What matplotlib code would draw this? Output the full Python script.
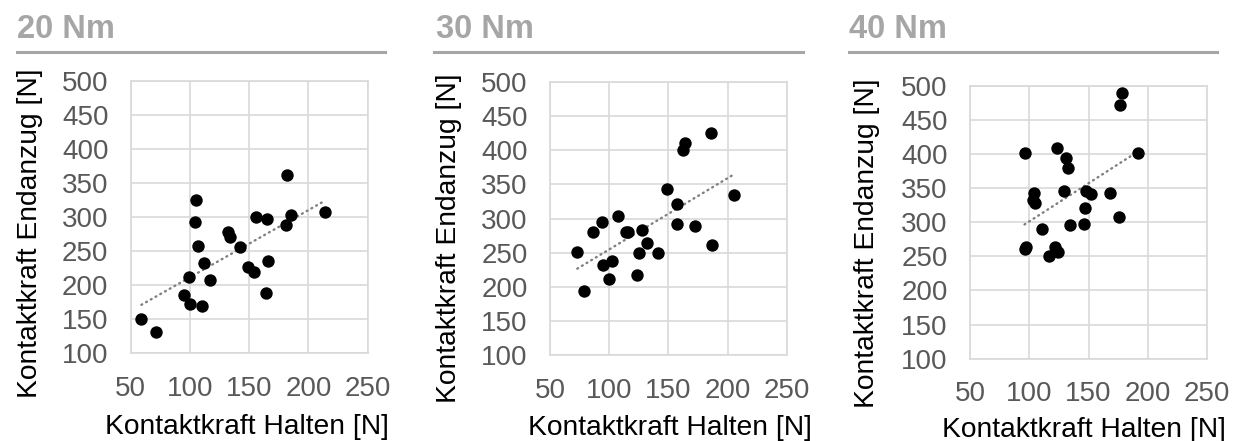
import matplotlib
matplotlib.use("Agg")
import matplotlib.pyplot as plt
from matplotlib.lines import Line2D
import numpy as np

plt.rcParams['font.family'] = ['Liberation Sans', 'DejaVu Sans']

# Kontaktkraft Halten / Endanzug je Anzugsmoment
titles = ["20 Nm", "30 Nm", "40 Nm"]

halten_20 = [59, 71, 95, 100, 99, 110, 105, 104, 107, 112, 117, 132, 134, 142,
             149, 154, 156, 165, 166, 164, 182, 181, 185, 214]
endanzug_20 = [151, 131, 185, 173, 212, 169, 325, 293, 258, 233, 207, 278, 271, 256,
               226, 220, 300, 297, 236, 188, 362, 288, 303, 307]

halten_30 = [73, 79, 86, 94, 95, 102, 100, 107, 114, 116, 128, 132, 125, 123,
             141, 149, 157, 157, 162, 164, 172, 186, 187, 205]
endanzug_30 = [251, 194, 281, 295, 232, 238, 211, 304, 280, 280, 283, 265, 249, 217,
               249, 343, 322, 292, 401, 410, 289, 425, 261, 335]

halten_40 = [96, 96, 97, 104, 103, 105, 111, 117, 122, 124, 123, 131, 133, 129,
             134, 146, 147, 148, 152, 168, 176, 177, 178, 192]
endanzug_40 = [401, 261, 263, 343, 333, 328, 290, 250, 264, 257, 408, 394, 379, 346,
               296, 297, 321, 345, 342, 343, 308, 471, 490, 401]

series = [(halten_20, endanzug_20), (halten_30, endanzug_30), (halten_40, endanzug_40)]

# axes boxes in pixels: left, right, top, bottom
W, H = 1233, 441
boxes = [(130.7, 367.7, 80.7, 353.3), (550, 787, 82, 355.3), (970, 1207, 85.7, 358.7)]
title_x = [17, 436, 849]
rule_x = [(17, 385), (434, 803), (849, 1217)]
ylab_x = [30, 449, 867]
ylab_y = [233, 238, 243]
xlab_x = [247, 670, 1084]
xlab_y = [427, 428, 430]

grid_c = "#d9d9d9"
tick_c = "#595959"
head_c = "#a6a6a6"

fig = plt.figure(figsize=(W / 100, H / 100), dpi=100)

for i, (xs, ys) in enumerate(series):
    l, r, t, b = boxes[i]
    ax = fig.add_axes([l / W, (H - b) / H, (r - l) / W, (b - t) / H])
    xs = np.array(xs, dtype=float)
    ys = np.array(ys, dtype=float)

    ax.scatter(xs, ys, s=80, color="black", zorder=3, linewidths=0)

    # linear trend over the data range
    k, d = np.polyfit(xs, ys, 1)
    xt = np.array([xs.min(), xs.max()])
    ax.plot(xt, k * xt + d, color="#7f7f7f", lw=1.7, linestyle=(0, (0.4, 1.9)),
            zorder=2, dash_capstyle="round")

    ax.set_xlim(50, 250)
    ax.set_ylim(100, 500)
    ax.set_xticks(np.arange(50, 251, 50))
    ax.set_yticks(np.arange(100, 501, 50))
    ax.grid(True, color=grid_c, lw=1.2)
    ax.set_axisbelow(True)
    for sp in ax.spines.values():
        sp.set_color(grid_c)
        sp.set_linewidth(1.2)
    ax.tick_params(length=0, labelsize=20, labelcolor=tick_c, pad=16)

    fig.text(xlab_x[i] / W, 1 - xlab_y[i] / H, "Kontaktkraft Halten [N]",
             ha="center", va="center", fontsize=20.3, color="black")
    fig.text(ylab_x[i] / W, 1 - ylab_y[i] / H, "Kontaktkraft Endanzug [N]",
             ha="center", va="center", rotation=90, fontsize=20.3, color="black")

    fig.text(title_x[i] / W, 1 - 38 / H, titles[i], ha="left", va="baseline",
             fontsize=23.5, fontweight="bold", color=head_c)
    x0, x1 = rule_x[i]
    fig.add_artist(Line2D([x0 / W, x1 / W], [1 - 52.3 / H, 1 - 52.3 / H],
                          color=head_c, lw=2.2))

fig.savefig("out.png", dpi=100)
